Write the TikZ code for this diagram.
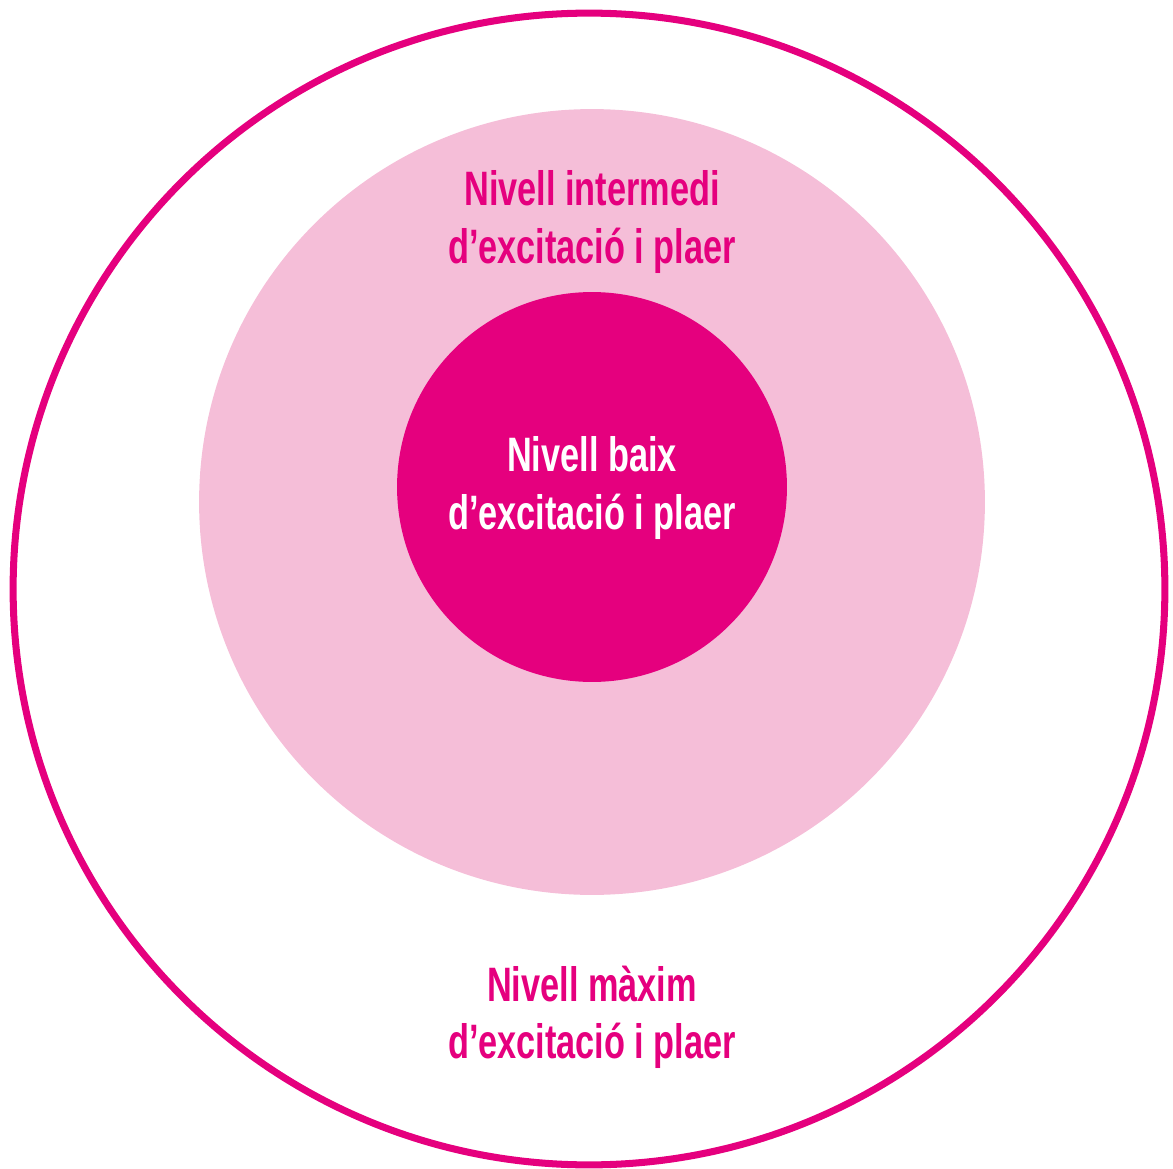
\documentclass[tikz,border=0pt]{standalone}
\usepackage{fontspec}
\usepackage{tikz}
\newfontfamily\cond{Liberation Sans}[FakeStretch=0.71]
\definecolor{magenta}{HTML}{E5007E}
\definecolor{rosa}{HTML}{F5BED8}

\begin{document}
\begin{tikzpicture}[x=0.02cm,y=-0.02cm,
  nivell/.style={align=center,font=\cond\bfseries\fontsize{27.5}{32.6}\selectfont}]
\useasboundingbox (0,0) rectangle (1173,1169);
\node[draw=magenta,line width=4pt,circle,minimum size=23.04cm] (maxim)at(589,589){};
\node[fill=rosa,circle,minimum size=15.72cm] (intermedi)at(592,502){};
\node[fill=magenta,circle,minimum size=7.8cm] (baix)at(592,487){};
\node[nivell,text=magenta] (tmaxim)at(592,1017){Nivell màxim\\d’excitació i plaer};
\node[nivell,text=magenta] (tintermedi)at(592,222){Nivell intermedi\\d’excitació i plaer};
\node[nivell,text=white] (tbaix)at(592,488){Nivell baix\\d’excitació i plaer};
\end{tikzpicture}
\end{document}
